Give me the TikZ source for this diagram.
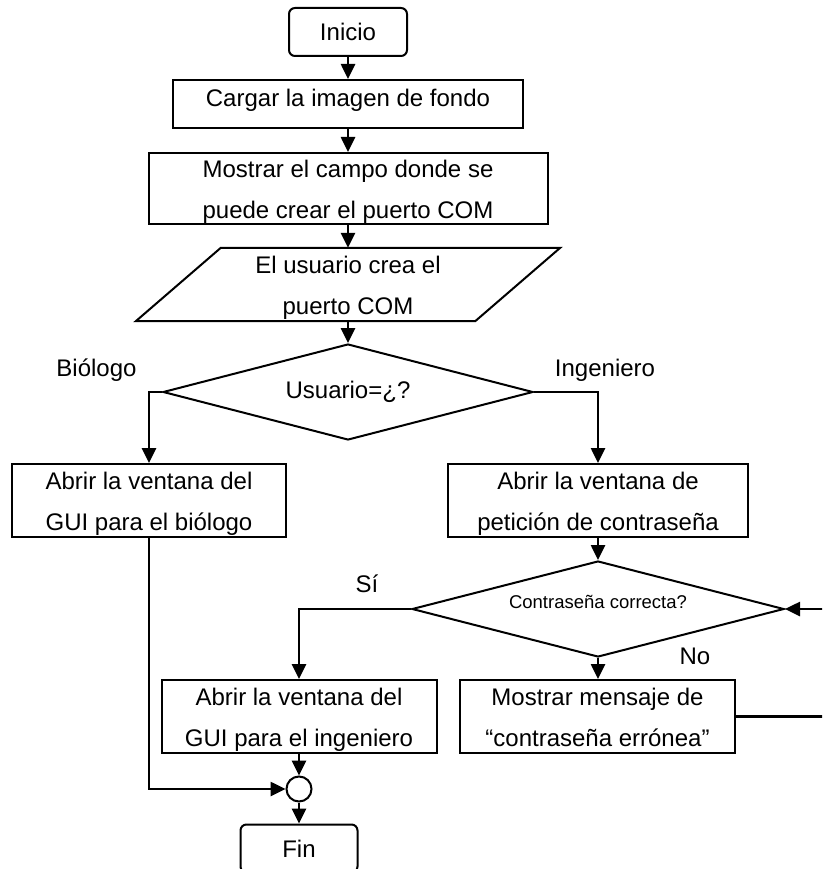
\documentclass[tikz,border=0pt]{standalone}
\usepackage{fontspec}
\setmainfont{Liberation Sans}
\usetikzlibrary{arrows.meta,shapes.geometric}
% struts that pad the first line on top and the last line below
\newcommand\upstrut{\rule{0pt}{24pt}}
\newcommand\downstrut{\rule[-5pt]{0pt}{5pt}}
\tikzset{
  base font/.style={font=\fontsize{24pt}{41pt}\selectfont},
  procbox/.style={draw, line width=2pt, rectangle, inner sep=0pt, align=center, base font},
  termbox/.style={procbox, rounded corners=6pt, minimum width=118pt, minimum height=48pt},
  decision/.style={draw, line width=2pt, diamond, aspect=3.86, inner sep=0pt, base font},
  joint/.style={draw, line width=2pt, circle, minimum size=25pt, inner sep=0pt},
  flow/.style={line width=2.6pt, -{Triangle[length=15pt,width=14pt]}},
  branch/.style={base font, anchor=base, inner sep=0pt},
}
\begin{document}
\begin{tikzpicture}[x=1pt,y=-1pt]
\useasboundingbox (0,0) rectangle (822,869);
\clip (0,0) rectangle (822,869);

% main column
\node[termbox] (inicio) at (348,32) {Inicio};
\node[procbox, minimum width=350pt, minimum height=48pt] (cargar) at (348,104)
  {Cargar la imagen de fondo\rule[-13pt]{0pt}{13pt}};
\node[procbox, minimum width=399pt, minimum height=71pt] (campo) at (348,188.5)
  {\upstrut Mostrar el campo donde se\\puede crear el puerto COM\downstrut};
\node[align=center, base font, inner sep=0pt, minimum width=339pt, minimum height=73pt] (para) at (348,284.5)
  {\upstrut El usuario crea el\\puerto COM\downstrut};
\draw[line width=2pt] ([xshift=42.5pt]para.north west) -- ([xshift=42.5pt]para.north east)
  -- ([xshift=-42.5pt]para.south east) -- ([xshift=-42.5pt]para.south west) -- cycle;
\node[decision, minimum width=370pt, minimum height=96pt] (usuario) at (348,392) {Usuario=¿?};
\node[branch] (biologo) at (96.5,376) {Biólogo};
\node[branch] (ingeniero) at (605,376) {Ingeniero};

% branches
\node[procbox, minimum width=274pt, minimum height=73pt] (guibio) at (149,500.5)
  {\upstrut Abrir la ventana del\\GUI para el biólogo\downstrut};
\node[procbox, minimum width=300pt, minimum height=73pt] (peticion) at (598,500.5)
  {\upstrut Abrir la ventana de\\petición de contraseña\downstrut};
\node[decision, minimum width=372pt, minimum height=96pt, font=\fontsize{18.5pt}{22pt}\selectfont] (clave) at (598,609)
  {Contraseña correcta?\rule[-13.3pt]{0pt}{13.3pt}};
\node[branch] (si) at (367,592) {Sí};
\node[branch] (no) at (695,664) {No};
\node[procbox, minimum width=275pt, minimum height=73pt] (guiing) at (299,716.5)
  {\upstrut Abrir la ventana del\\GUI para el ingeniero\downstrut};
\node[procbox, minimum width=275pt, minimum height=73pt] (mensaje) at (597.5,716.5)
  {\upstrut Mostrar mensaje de\\“contraseña errónea”\downstrut};
\node[joint] (union) at (299,789) {};
\node[termbox, minimum width=117pt] (fin) at (299,848.5) {Fin};

% connectors
\draw[flow] (inicio) -- (cargar);
\draw[flow] (cargar) -- (campo);
\draw[flow] (campo) -- (para);
\draw[flow] (para) -- (usuario);
\draw[flow] (usuario.west) -| (guibio.north);
\draw[flow] (usuario.east) -| (peticion.north);
\draw[flow] (peticion) -- (clave);
\draw[flow] (clave.west) -| (guiing.north);
\draw[flow] (clave.south) -- (clave.south |- mensaje.north);
\draw[flow] (mensaje.east) -- ++(95pt,0) |- (clave.east);
\draw[flow] (guibio.south) |- (union.west);
\draw[flow] (guiing) -- (union);
\draw[flow] (union) -- (fin);
\end{tikzpicture}
\end{document}
